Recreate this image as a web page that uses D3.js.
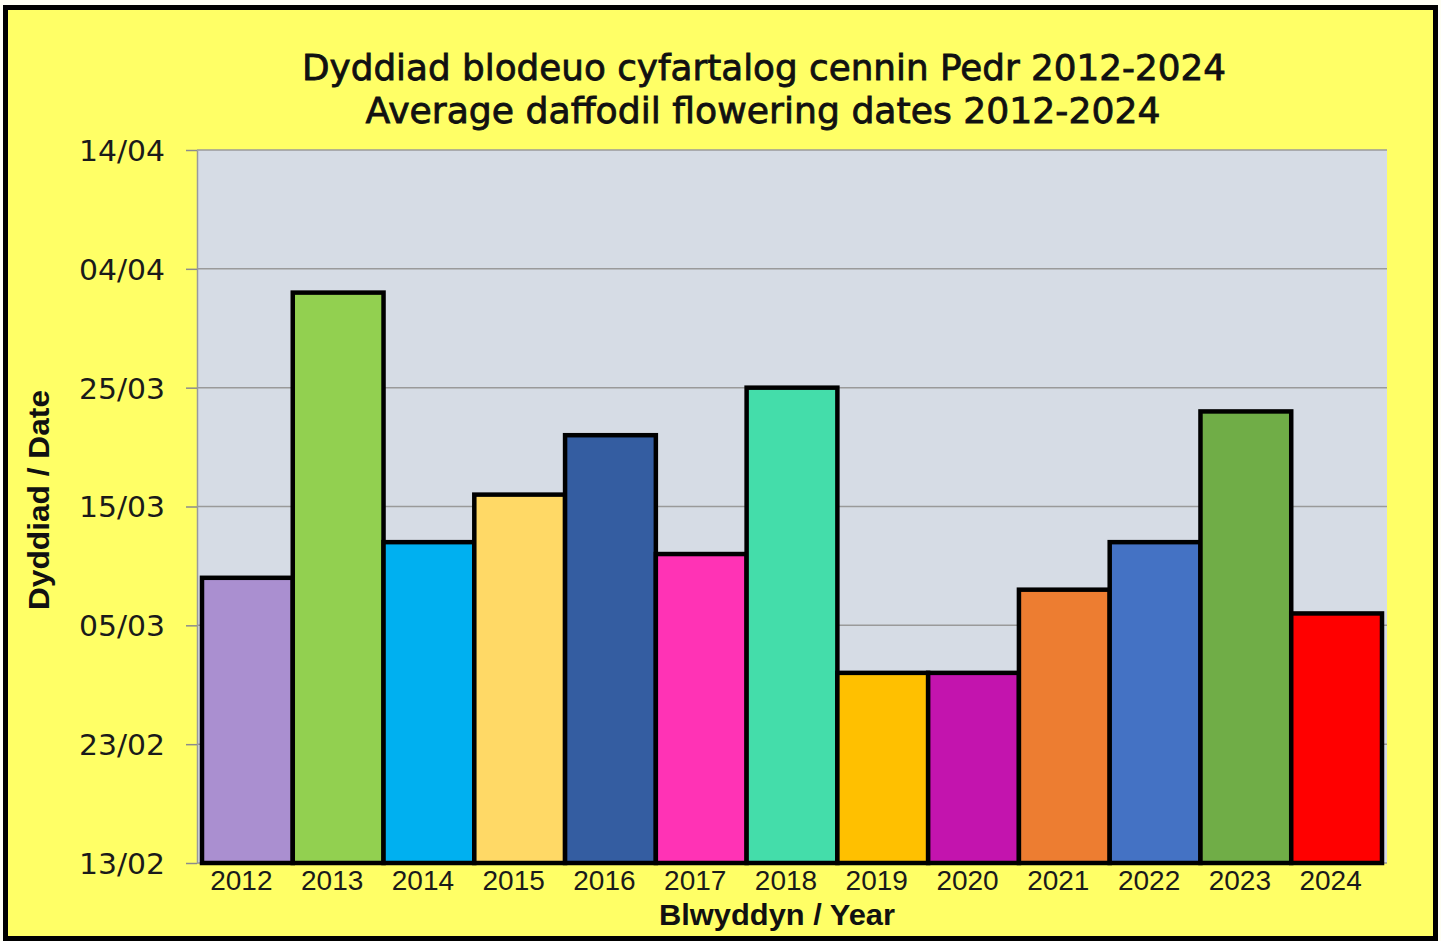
<!DOCTYPE html>
<html>
<head>
<meta charset="utf-8">
<script src="https://cdn.jsdelivr.net/npm/d3@7"></script>
<style>
  body { margin: 0; background: #fefef4; }
  svg { display: block; }
</style>
</head>
<body>
<div id="chart"></div>
<script>
// years and average flowering date, as days after 13 Feb
const years = ["2012", "2013", "2014", "2015", "2016", "2017", "2018", "2019", "2020", "2021", "2022", "2023", "2024"];
const daysAfter13Feb = [24, 48, 27, 31, 36, 26, 40, 16, 16, 23, 27, 38, 21];
const barColors = ["#aa8fd0", "#92d050", "#00b0f0", "#ffd966", "#345da1", "#ff33b5", "#44ddaa",
    "#ffc000", "#c314ae", "#ed7d31", "#4472c4", "#70ad47", "#ff0000"];
const tickDays = [0, 10, 20, 30, 40, 50, 60];
const tickLabels = ["13/02", "23/02", "05/03", "15/03", "25/03", "04/04", "14/04"];

const width = 1441;
const height = 941;
const margin = {top: 150, right: 54, bottom: 78, left: 197};

const svg = d3.select("#chart")
    .append("svg")
    .attr("width", width)
    .attr("height", height);

// yellow frame
svg.append("rect")
    .attr("x", 5.5)
    .attr("y", 7.5)
    .attr("width", 1430)
    .attr("height", 931)
    .attr("fill", "#ffff66")
    .attr("stroke", "#000")
    .attr("stroke-width", 5);

const x = d3.scaleBand()
    .domain(years)
    .range([margin.left, width - margin.right])
    .paddingInner(0)
    .paddingOuter(0.055);

const y = d3.scaleLinear()
    .domain([0, 60])
    .range([height - margin.bottom, margin.top]);

// plot area
svg.append("rect")
    .attr("x", margin.left)
    .attr("y", margin.top)
    .attr("width", width - margin.right - margin.left)
    .attr("height", height - margin.bottom - margin.top)
    .attr("fill", "#d6dce5");

// gridlines
svg.append("g")
    .selectAll("line")
    .data(tickDays)
    .enter()
    .append("line")
    .attr("x1", margin.left)
    .attr("x2", width - margin.right)
    .attr("y1", d => y(d))
    .attr("y2", d => y(d))
    .attr("stroke", "#9a9a9a")
    .attr("stroke-width", 1.5);

// y axis
const yAxis = svg.append("g")
    .attr("transform", "translate(" + margin.left + ",0)")
    .call(d3.axisLeft(y)
        .tickValues(tickDays)
        .tickFormat((d, i) => tickLabels[i])
        .tickSize(11)
        .tickSizeOuter(0)
        .tickPadding(21));

yAxis.select(".domain").attr("stroke", "#9a9a9a").attr("stroke-width", 1.5);
yAxis.selectAll(".tick line").attr("stroke", "#8c8c8c").attr("stroke-width", 1.5);
yAxis.selectAll(".tick text")
    .attr("fill", "#1a1a1a")
    .attr("textLength", 86)
    .attr("lengthAdjust", "spacingAndGlyphs")
    .style("font-family", "'DejaVu Sans', sans-serif")
    .style("font-size", "29px")
    .attr("dy", "0.36em");

// bars
svg.append("g")
    .selectAll("rect")
    .data(years)
    .enter()
    .append("rect")
    .attr("x", d => x(d))
    .attr("y", (d, i) => y(daysAfter13Feb[i]))
    .attr("width", x.bandwidth())
    .attr("height", (d, i) => y(0) - y(daysAfter13Feb[i]))
    .attr("fill", (d, i) => barColors[i])
    .attr("stroke", "#000")
    .attr("stroke-width", 4.5);

// x axis labels
svg.append("g")
    .selectAll("text")
    .data(years)
    .enter()
    .append("text")
    .attr("x", d => x(d) + x.bandwidth() / 2 - 6)
    .attr("y", 890)
    .attr("text-anchor", "middle")
    .attr("fill", "#1a1a1a")
    .style("font-family", "'Liberation Sans', sans-serif")
    .style("font-size", "28px")
    .text(d => d);

// titles
const title = svg.append("g")
    .attr("text-anchor", "middle")
    .attr("fill", "#111")
    .style("font-family", "'DejaVu Sans', sans-serif")
    .style("font-size", "35px");

title.append("text")
    .attr("x", 764)
    .attr("y", 80)
    .attr("textLength", 924)
    .attr("lengthAdjust", "spacingAndGlyphs")
    .attr("stroke", "#111")
    .attr("stroke-width", 0.8)
    .text("Dyddiad blodeuo cyfartalog cennin Pedr 2012-2024");

title.append("text")
    .attr("x", 763)
    .attr("y", 123)
    .attr("textLength", 795)
    .attr("lengthAdjust", "spacingAndGlyphs")
    .attr("stroke", "#111")
    .attr("stroke-width", 0.8)
    .text("Average daffodil flowering dates 2012-2024");

svg.append("text")
    .attr("x", 777)
    .attr("y", 925)
    .attr("text-anchor", "middle")
    .attr("fill", "#111")
    .attr("textLength", 236)
    .attr("lengthAdjust", "spacingAndGlyphs")
    .style("font-family", "'Liberation Sans', sans-serif")
    .style("font-size", "29px")
    .style("font-weight", "bold")
    .text("Blwyddyn / Year");

svg.append("text")
    .attr("transform", "translate(49,500) rotate(-90)")
    .attr("text-anchor", "middle")
    .attr("fill", "#111")
    .attr("textLength", 220)
    .attr("lengthAdjust", "spacingAndGlyphs")
    .style("font-family", "'Liberation Sans', sans-serif")
    .style("font-size", "29px")
    .style("font-weight", "bold")
    .text("Dyddiad / Date");
</script>
</body>
</html>
